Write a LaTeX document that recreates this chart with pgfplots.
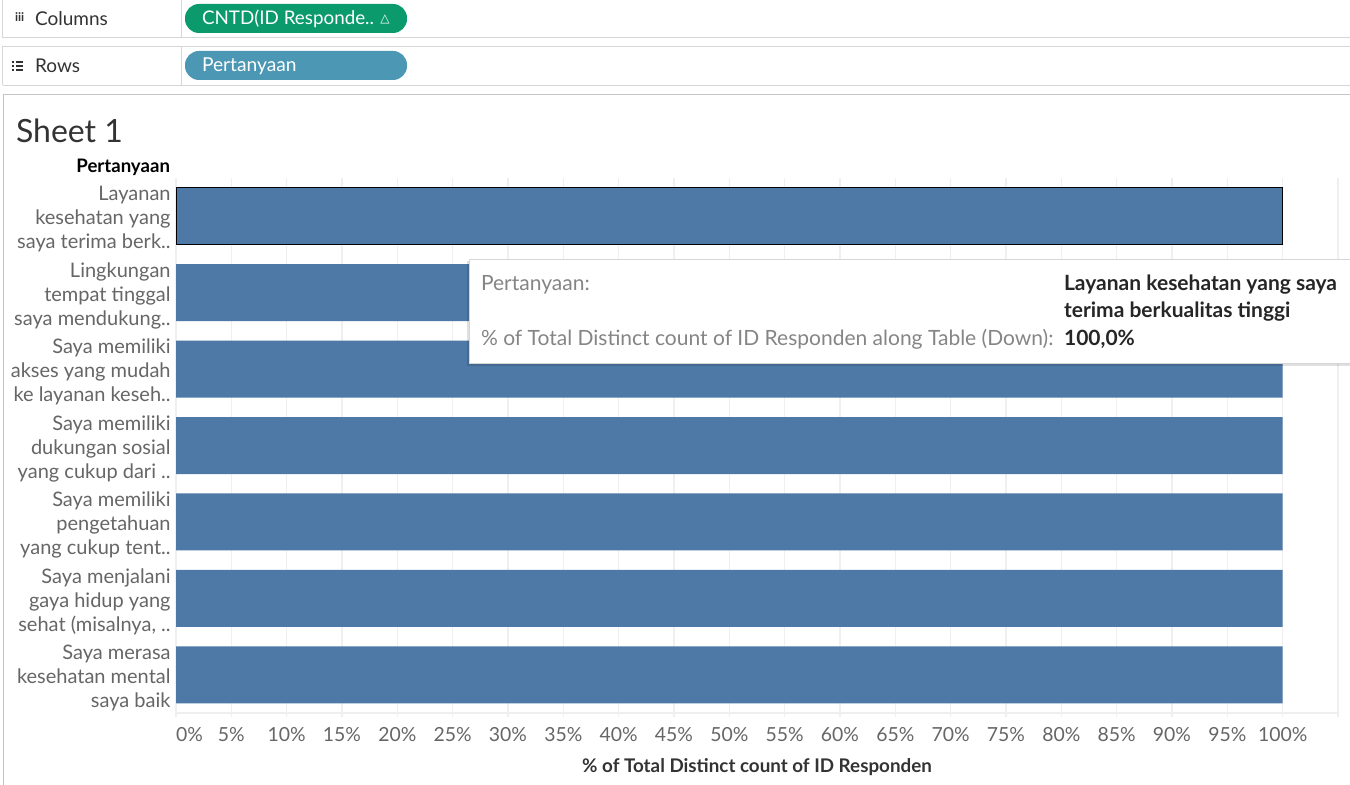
\documentclass[border=0pt]{standalone}
\usepackage{fontspec}
\setmainfont{Lato}
\newfontfamily\dejavu{DejaVu Sans}
\usepackage{pgfplots}
\pgfplotsset{compat=1.18}
\definecolor{tabblue}{HTML}{4E79A7}
\definecolor{gridgray}{HTML}{EFEFEF}
\definecolor{labgray}{HTML}{666666}
\definecolor{darktext}{HTML}{333333}
\definecolor{pillgreen}{HTML}{0A9A6B}
\definecolor{pillblue}{HTML}{4B97B4}
\definecolor{shelfline}{HTML}{D6D6D6}
\definecolor{framegray}{HTML}{C4C4C4}
\definecolor{tipgray}{HTML}{858585}

\begin{document}
\begin{tikzpicture}
\clip (0,0) rectangle (675pt,-392.5pt);
\fill[white] (0,0) rectangle (675pt,-392.5pt);
% shelves, drawn in pixels (y down)
\begin{scope}[x=0.5pt,y=-0.5pt]
  \draw[shelfline] (2.5,0) -- (2.5,37.5) -- (1350,37.5);
  \draw[shelfline] (181.5,0) -- (181.5,37.5);
  \draw[shelfline] (2.5,85.5) -- (2.5,46.5) -- (1350,46.5);
  \draw[shelfline] (2.5,85.5) -- (1350,85.5);
  \draw[shelfline] (181.5,46.5) -- (181.5,85.5);
  \node[anchor=west, text=darktext, font=\fontsize{6}{7}\selectfont\bfseries] at (8,17) {iii};
  \foreach \yy in {62,66,70} {
    \fill[darktext] (12,\yy-1) rectangle (14,\yy+1);
    \fill[darktext] (16,\yy-0.6) rectangle (23,\yy+0.6);
  }
  \node[anchor=west, text=darktext, font=\fontsize{9.5}{12}\selectfont] at (28,18.5) {Columns};
  \node[anchor=west, text=darktext, font=\fontsize{9.5}{12}\selectfont] at (28,66) {Rows};
  \fill[pillgreen, rounded corners=7pt] (185,4) rectangle (407,33);
  \node[anchor=base west, text=white, font=\fontsize{9.4}{12}\selectfont] at (195,25) {CNTD(ID Responde.. {\dejavu\fontsize{6}{7}\selectfont\raisebox{1pt}{△}}};
  \fill[pillblue, rounded corners=7pt] (185,51) rectangle (407,80);
  \node[anchor=base west, text=white, font=\fontsize{9.6}{12}\selectfont] at (195,72) {Pertanyaan};
  % sheet frame
  \draw[framegray] (3.5,785) -- (3.5,94.5) -- (1350,94.5);
  \node[anchor=base west, text=darktext, font=\fontsize{16}{19}\selectfont] at (9,143) {Sheet 1};
  \node[anchor=base east, text=black, font=\bfseries\fontsize{9.3}{11}\selectfont] at (177,173) {Pertanyaan};
\end{scope}

\begin{axis}[
  at={(88pt,-356.5pt)}, anchor=south west,
  scale only axis, width=581pt, height=267.5pt,
  xmin=0, xmax=105, ymin=-0.5, ymax=6.5, y dir=reverse,
  axis line style={draw=none},
  xtick={0,5,...,100},
  xticklabels={\makebox[0pt][l]{0\%},5\%,10\%,15\%,20\%,25\%,30\%,35\%,40\%,45\%,50\%,55\%,60\%,65\%,70\%,75\%,80\%,85\%,90\%,95\%,100\%},
  extra x ticks={105}, extra x tick labels={},
  extra x tick style={grid=major},
  xmajorgrids, major grid style={color=gridgray, line width=0.6pt},
  x tick style={color=gridgray, line width=0.6pt},
  xtick pos=bottom, tick align=outside, major tick length=2pt,
  xticklabel style={font=\fontsize{9.7}{11}\selectfont, text=labgray, inner sep=0pt, yshift=-4.8pt},
  ytick={0,...,6},
  yticklabels={
    {Layanan\\kesehatan yang\\saya terima berk..},
    {Lingkungan\\tempat tinggal\\saya mendukung..},
    {Saya memiliki\\akses yang mudah\\ke layanan keseh..},
    {Saya memiliki\\dukungan sosial\\yang cukup dari ..},
    {Saya memiliki\\pengetahuan\\yang cukup tent..},
    {Saya menjalani\\gaya hidup yang\\sehat (misalnya, ..},
    {Saya merasa\\kesehatan mental\\saya baik}},
  y tick style={draw=none},
  yticklabel style={align=right, font=\fontsize{10}{12}\selectfont, text=labgray, inner sep=0pt, xshift=-0.5pt, yshift=-1.5pt},
  extra y ticks={6.5}, extra y tick labels={},
  extra y tick style={ymajorgrids=true, major grid style={color=gridgray, line width=0.6pt}},
  xlabel={\% of Total Distinct count of ID Responden},
  xlabel style={at={(axis description cs:0.5,0)}, anchor=center, yshift=-27pt, font=\bfseries\fontsize{9.4}{11}\selectfont, text=darktext},
  bar width=28.5pt,
]
\addplot[xbar, bar shift=0pt, fill=tabblue, draw=none] coordinates {
  (100,1) (100,2) (100,3) (100,4) (100,5) (100,6)
};
\addplot[xbar, bar shift=0pt, fill=tabblue, draw=black, line width=0.7pt] coordinates {
  (100,0)
};
\end{axis}

% tooltip
\begin{scope}[x=0.5pt,y=-0.5pt]
  \fill[black, opacity=0.12] (467,261) rectangle (1352,366);
  \filldraw[fill=white, draw=shelfline] (469.5,259.5) rectangle (1352,363.5);
  \node[anchor=base west, text=tipgray, font=\fontsize{10.5}{12}\selectfont] at (474,291) {Pertanyaan:};
  \node[anchor=base west, text=tipgray, font=\fontsize{10.5}{12}\selectfont] at (474,346) {\% of Total Distinct count of ID Responden along Table (Down):};
  \node[anchor=base west, text=black!85, font=\bfseries\fontsize{10.5}{12}\selectfont] at (1057,291) {Layanan kesehatan yang saya};
  \node[anchor=base west, text=black!85, font=\bfseries\fontsize{10.5}{12}\selectfont] at (1057,318) {terima berkualitas tinggi};
  \node[anchor=base west, text=black!85, font=\bfseries\fontsize{10.5}{12}\selectfont] at (1057,346) {100,0\%};
\end{scope}
\end{tikzpicture}
\end{document}
